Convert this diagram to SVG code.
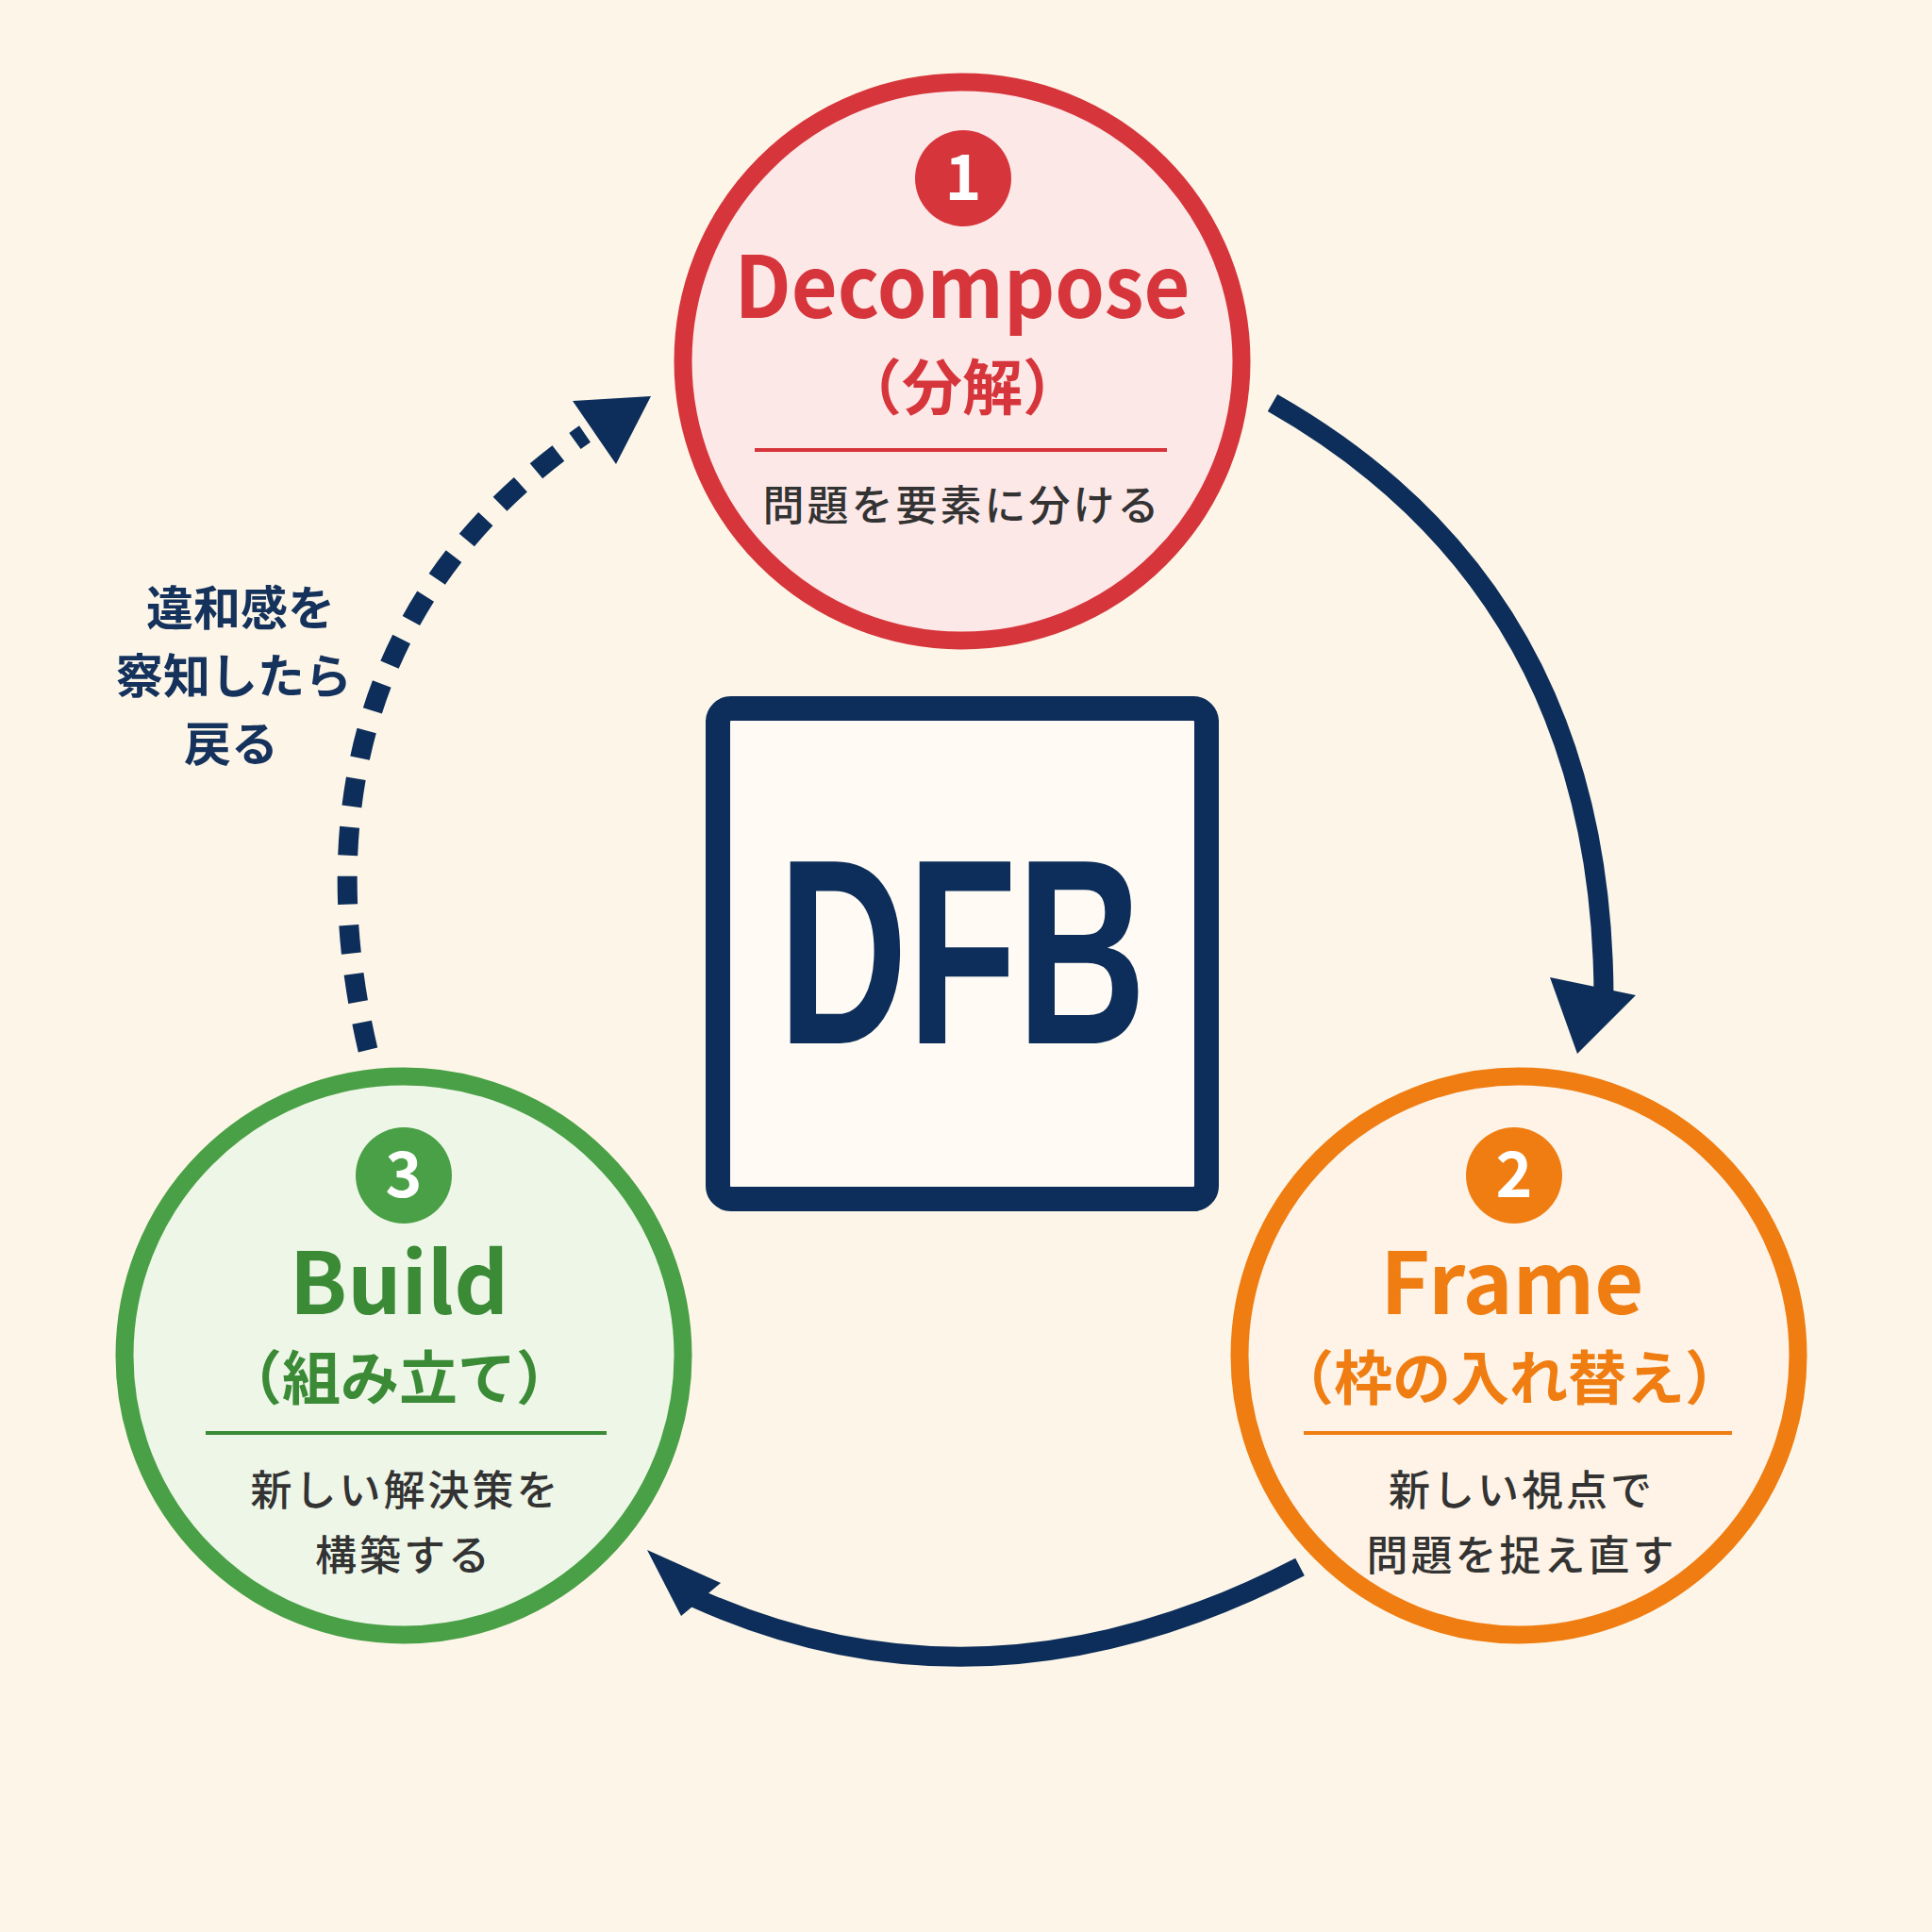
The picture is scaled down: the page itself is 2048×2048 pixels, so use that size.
<svg xmlns="http://www.w3.org/2000/svg" width="2048" height="2048" viewBox="0 0 2048 2048">
<style>
.t{font-family:"Noto Sans CJK JP","Noto Sans",sans-serif;text-anchor:middle}
.b{font-weight:700}
.sub{font-size:44px;fill:#333;font-weight:500;letter-spacing:3px}
.arr{fill:none;stroke:#0d2e5a;stroke-width:21}
</style>
<rect width="2048" height="2048" fill="#fdf6e8"/>
<g id="connectors">
<path class="arr" d="M1349 427 Q1700 627 1700 1060"/>
<polygon points="1672,1117 1643,1036 1734,1055" fill="#0d2e5a"/>
<path class="arr" d="M1378 1661 Q1045 1834 735 1693"/>
<polygon points="686,1643 722,1713 764,1678" fill="#0d2e5a"/>
<path class="arr" d="M390 1113 C340 900 360 640 620 460" stroke-dasharray="30 22" stroke-width="9"/>
<polygon points="690,420 607,425 653,492" fill="#0d2e5a"/>
<text class="t b" x="255" y="663" font-size="50" fill="#14325c">違和感を</text>
<text class="t b" x="248" y="735" font-size="50" fill="#14325c">察知したら</text>
<text class="t b" x="245" y="807" font-size="50" fill="#14325c">戻る</text>
</g>
<g id="center">
<rect x="761" y="751" width="518" height="520" rx="14" fill="#fffaf3" stroke="#0d2e5a" stroke-width="26"/>
<text x="1020" y="1106" font-family="Liberation Sans,sans-serif" font-weight="700" font-size="280" text-anchor="middle" textLength="390" lengthAdjust="spacingAndGlyphs" fill="#0d2e5a">DFB</text>
</g>
<g id="decompose">
<circle cx="1020" cy="383" r="296" fill="#fde8e8" stroke="#d6363b" stroke-width="19"/>
<circle cx="1021" cy="189" r="51" fill="#d6363b"/>
<text class="t b" x="1021" y="212" font-size="66" fill="#fff">1</text>
<text class="t b" x="1020" y="337" font-size="90" textLength="483" lengthAdjust="spacingAndGlyphs" fill="#d6363b">Decompose</text>
<text class="t b" x="1020" y="434" font-size="64" fill="#d6363b">（分解）</text>
<line x1="800" y1="477" x2="1237" y2="477" stroke="#d6363b" stroke-width="4"/>
<text class="t sub" x="1020" y="552">問題を要素に分ける</text>
</g>
<g id="frame">
<circle cx="1610" cy="1437" r="296" fill="#fef3e6" stroke="#ef7d12" stroke-width="19"/>
<circle cx="1605" cy="1246" r="51" fill="#ef7d12"/>
<text class="t b" x="1605" y="1269" font-size="66" fill="#fff">2</text>
<text class="t b" x="1603" y="1393" font-size="90" fill="#ef7d12">Frame</text>
<text class="t b" x="1600" y="1484" font-size="62" fill="#ef7d12">（枠の入れ替え）</text>
<line x1="1382" y1="1519" x2="1836" y2="1519" stroke="#ef7d12" stroke-width="4"/>
<text class="t sub" x="1613" y="1596">新しい視点で</text>
<text class="t sub" x="1613" y="1665">問題を捉え直す</text>
</g>
<g id="build">
<circle cx="428" cy="1437" r="296" fill="#eef6e8" stroke="#4aa046" stroke-width="19"/>
<circle cx="428" cy="1246" r="51" fill="#4aa046"/>
<text class="t b" x="428" y="1269" font-size="66" fill="#fff">3</text>
<text class="t b" x="423" y="1393" font-size="90" fill="#3a8a36">Build</text>
<text class="t b" x="423" y="1484" font-size="62" fill="#3a8a36">（組み立て）</text>
<line x1="218" y1="1519" x2="643" y2="1519" stroke="#3a8a36" stroke-width="4"/>
<text class="t sub" x="430" y="1596">新しい解決策を</text>
<text class="t sub" x="428" y="1665">構築する</text>
</g>
</svg>
